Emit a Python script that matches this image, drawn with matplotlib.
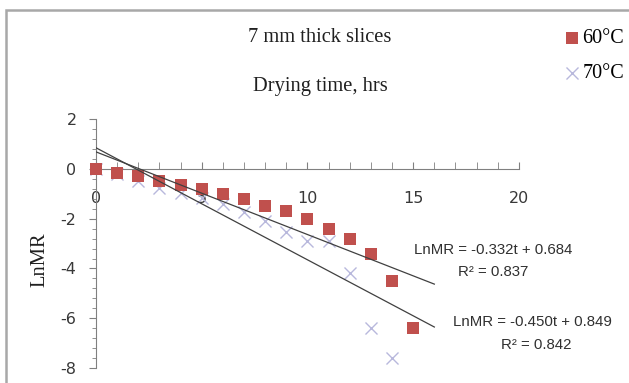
import matplotlib
matplotlib.use("Agg")
import matplotlib.pyplot as plt
import numpy as np
from matplotlib.ticker import MultipleLocator

plt.rcParams['axes.unicode_minus'] = False

t60 = [0, 1, 2, 3, 4, 5, 6, 7, 8, 9, 10, 11, 12, 13, 14, 15]
ln60 = [0, -0.15, -0.3, -0.5, -0.65, -0.8, -1.0, -1.2, -1.5, -1.7, -2.0, -2.4, -2.8, -3.4, -4.5, -6.4]
t70 = [0, 1, 2, 3, 4, 5, 6, 7, 8, 9, 10, 11, 12, 13, 14]
ln70 = [0, -0.2, -0.5, -0.75, -0.95, -1.15, -1.4, -1.75, -2.1, -2.55, -2.9, -2.9, -4.2, -6.4, -7.6]
slope60, icpt60, r2_60 = -0.332, 0.684, 0.837
slope70, icpt70, r2_70 = -0.450, 0.849, 0.842
trend_end = 16

fig = plt.figure(figsize=(6.29, 3.83), dpi=100)
ax = fig.add_axes([0.1526, 0.039, 0.825 - 0.1526, 0.65])

# figure frame
fig.patches.append(plt.Rectangle((6 / 629, -0.1), 1.2, (383 - 10) / 383 + 0.1,
                                 transform=fig.transFigure, fill=False,
                                 edgecolor='#A8A8A8', linewidth=1.8))

ax.scatter(t60, ln60, marker='s', s=82, color='#C0504D', zorder=3, label='60°C',
           linewidths=0, clip_on=False)
ax.scatter(t70, ln70, marker='x', s=75, color='#B8B8DC', zorder=2, label='70°C',
           linewidths=1.0, clip_on=False)

tt = np.array([0, trend_end])
ax.plot(tt, slope60 * tt + icpt60, color='#404040', lw=0.9, zorder=4)
ax.plot(tt, slope70 * tt + icpt70, color='#404040', lw=0.9, zorder=4)

ax.set_xlim(0, 20)
ax.set_ylim(-8, 2)
ax.spines['right'].set_visible(False)
ax.spines['top'].set_visible(False)
ax.spines['bottom'].set_position(('data', 0))
for s in ['left', 'bottom']:
    ax.spines[s].set_color('#808080')
    ax.spines[s].set_linewidth(0.8)

ax.xaxis.set_major_locator(MultipleLocator(5))
ax.xaxis.set_minor_locator(MultipleLocator(1))
ax.yaxis.set_major_locator(MultipleLocator(2))
ax.yaxis.set_minor_locator(MultipleLocator(0.4))
ax.tick_params(axis='x', which='both', direction='in', color='#808080', pad=16,
               labelsize=11.5, labelcolor='#383838')
ax.tick_params(axis='x', which='major', length=5)
ax.tick_params(axis='x', which='minor', length=5)
ax.tick_params(axis='y', which='both', direction='out', color='#808080', pad=9,
               labelsize=11.5, labelcolor='#383838')
ax.tick_params(axis='y', which='major', length=5)
ax.tick_params(axis='y', which='minor', length=3)

serif = 'Liberation Serif'
fig.text(320 / 629, 1 - 38 / 383, '7 mm thick slices', family=serif, fontsize=14.8,
         ha='center', va='center', color='#202020')
fig.text(320 / 629, 1 - 86 / 383, 'Drying time, hrs', family=serif, fontsize=14.8,
         ha='center', va='center', color='#202020')
fig.text(40 / 629, 1 - 260 / 383, 'LnMR', family=serif, fontsize=14.8, rotation=90,
         ha='center', va='center', color='#202020')

leg = ax.legend(loc='center left', bbox_to_anchor=(562 / 629, 1 - 56 / 383),
                bbox_transform=fig.transFigure, frameon=False,
                prop={'family': serif, 'size': 14.5}, handletextpad=0.0,
                handlelength=1.0, labelspacing=0.8, borderpad=0, borderaxespad=0)

fig.text(493 / 629, 1 - 250 / 383, f'LnMR = {slope60:.3f}t + {icpt60:.3f}', fontsize=10.8,
         family='Liberation Sans', ha='center', va='center', color='#303030')
fig.text(493 / 629, 1 - 272 / 383, f'R² = {r2_60:.3f}', fontsize=10.8,
         family='Liberation Sans', ha='center', va='center', color='#303030')
fig.text(532 / 629, 1 - 322 / 383, f'LnMR = {slope70:.3f}t + {icpt70:.3f}', fontsize=10.8,
         family='Liberation Sans', ha='center', va='center', color='#303030')
fig.text(536 / 629, 1 - 345 / 383, f'R² = {r2_70:.3f}', fontsize=10.8,
         family='Liberation Sans', ha='center', va='center', color='#303030')

fig.savefig('out.png', dpi=100)
